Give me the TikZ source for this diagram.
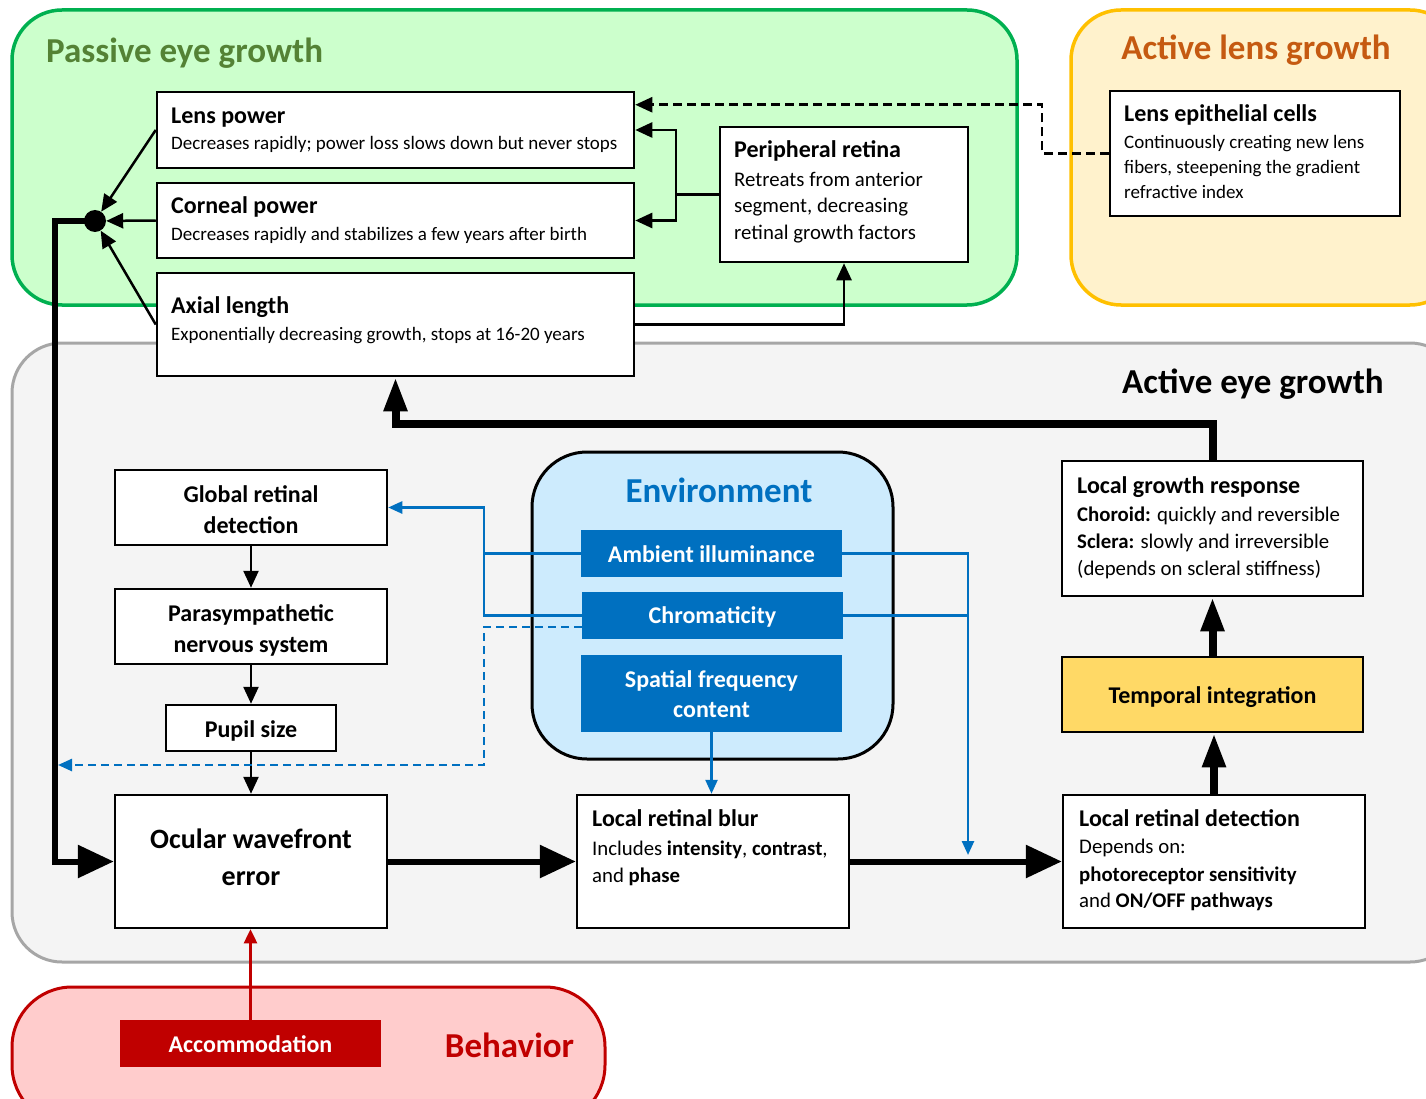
\documentclass[tikz,border=0pt]{standalone}
\usepackage{fontspec}
\setmainfont{Carlito}
\usetikzlibrary{arrows.meta,calc}
\definecolor{grnfill}{HTML}{CCFFCC}
\definecolor{grnline}{HTML}{00B050}
\definecolor{grntext}{HTML}{548235}
\definecolor{orgfill}{HTML}{FFF2CC}
\definecolor{orgline}{HTML}{FFC000}
\definecolor{orgtext}{HTML}{C55A11}
\definecolor{gryfill}{HTML}{F4F4F4}
\definecolor{gryline}{HTML}{A6A6A6}
\definecolor{envfill}{HTML}{CDEBFD}
\definecolor{envblue}{HTML}{0070C0}
\definecolor{redfill}{HTML}{FFCCCC}
\definecolor{redline}{HTML}{C00000}
\definecolor{tempfill}{HTML}{FFD966}
\newcommand{\fs}[1]{\fontsize{#1}{#1}\selectfont}
\tikzset{
 box/.style={draw, line width=2.5pt, fill=white, inner sep=0pt},
 ttl/.style={anchor=base west, inner sep=0pt, font=\bfseries\fs{24}},
 sub/.style={anchor=base west, inner sep=0pt, font=\fs{19}},
 sub2/.style={anchor=base west, inner sep=0pt, font=\fs{20.8}},
 ctr/.style={anchor=base, inner sep=0pt, font=\bfseries\fs{24}},
 wtx/.style={anchor=base, inner sep=0pt, font=\bfseries\fs{24}, text=white},
 rtitle/.style={inner sep=0pt, font=\bfseries\fs{35}},
 blk/.style={fill=envblue, inner sep=0pt},
 thinarr/.style={line width=2.5pt, -{Triangle[length=17pt,width=15pt]}},
 thickarr/.style={line width=6pt, -{Triangle[length=36pt,width=32pt]}},
 fatarr/.style={line width=8pt, -{Triangle[length=34pt,width=22pt]}},
 bluearr/.style={draw=envblue, line width=2.5pt, -{Triangle[length=14pt,width=12pt]}},
 redarr/.style={draw=redline, line width=2.5pt, -{Triangle[length=14pt,width=13pt]}},
}
\begin{document}
\begin{tikzpicture}[x=1pt,y=-1pt]
\useasboundingbox (0,0) rectangle (1426,1099);
\clip (0,0) rectangle (1426,1099);
% regions
\draw[fill=grnfill, draw=grnline, line width=3.5pt, rounded corners=50pt] (12,10) rectangle (1017,305);
\draw[fill=orgfill, draw=orgline, line width=3.5pt, rounded corners=50pt] (1071,10) rectangle (1460,305);
\draw[fill=gryfill, draw=gryline, line width=3pt, rounded corners=50pt] (12,343) rectangle (1460,962);
\draw[fill=redfill, draw=redline, line width=3pt, rounded corners=60pt] (12,987) rectangle (605,1125);
\node[rtitle, anchor=base west, text=grntext] (tpass) at (46,63) {Passive eye growth};
\node[rtitle, anchor=base, text=orgtext] (tlens) at (1256,60) {Active lens growth};
\node[rtitle, anchor=base east] (tact) at (1384,393) {Active eye growth};
\node[rtitle, anchor=base, text=redline] (tbeh) at (509.5,1057) {Behavior};
% environment
\node[draw, line width=3pt, fill=envfill, rounded corners=55pt, minimum width=361pt, minimum height=307pt, inner sep=0pt] (env) at (712.5,605.5) {};
\node[rtitle, anchor=base, text=envblue] (tenv) at (719,502) {Environment};
\node[blk, minimum width=261pt, minimum height=47pt] (amb) at (711.5,553.5) {};
\node[blk, minimum width=261pt, minimum height=47pt] (chrom) at (712.5,615.5) {};
\node[blk, minimum width=261pt, minimum height=77pt] (spat) at (711.5,693.5) {};
\node[wtx] (tamb) at (711.5,562) {Ambient illuminance};
\node[wtx] (tchrom) at (712.5,623) {Chromaticity};
\node[wtx] (tspat1) at (711.5,687) {Spatial frequency};
\node[wtx] (tspat2) at (711.5,717) {content};
% boxes
\node[box, minimum width=477pt, minimum height=76pt] (lens) at (395.5,130) {};
\node[box, minimum width=477pt, minimum height=75pt] (corn) at (395.5,220.5) {};
\node[box, minimum width=477pt, minimum height=103pt] (axial) at (395.5,324.5) {};
\node[box, minimum width=248pt, minimum height=135pt] (peri) at (844,194.5) {};
\node[box, minimum width=290pt, minimum height=125pt] (lensepi) at (1255,153.5) {};
\node[box, minimum width=272pt, minimum height=75pt] (glob) at (251,507.5) {};
\node[box, minimum width=272pt, minimum height=75pt] (para) at (251,626.5) {};
\node[box, minimum width=170pt, minimum height=46pt] (pupil) at (251,728) {};
\node[box, minimum width=272pt, minimum height=133pt] (ocular) at (251,861.5) {};
\node[box, minimum width=272pt, minimum height=133pt] (blur) at (713,861.5) {};
\node[box, minimum width=302pt, minimum height=133pt] (det) at (1214,861.5) {};
\node[box, fill=tempfill, minimum width=301pt, minimum height=75pt] (temp) at (1212.5,694.5) {};
\node[box, minimum width=301pt, minimum height=135pt] (growth) at (1212.5,528.5) {};
\node[fill=redline, inner sep=0pt, minimum width=261pt, minimum height=47pt] (accom) at (250.5,1043.5) {};
\node[wtx] (taccom) at (250.5,1052) {Accommodation};
\node[circle, fill=black, inner sep=0pt, minimum size=22pt] (dot) at (95,221) {};
% texts
\node[ttl] (t1) at (171,124) {Lens power};
\node[sub] (t2) at (171,150) {Decreases rapidly; power loss slows down but never stops};
\node[ttl] (t3) at (171,214) {Corneal power};
\node[sub] (t4) at (171,241) {Decreases rapidly and stabilizes a few years after birth};
\node[ttl] (t5) at (171,313) {Axial length};
\node[sub] (t6) at (171,340) {Exponentially decreasing growth, stops at 16-20 years};
\node[ttl] (t7) at (734,158) {Peripheral retina};
\node[sub2] (t8) at (734,187) {Retreats from anterior};
\node[sub2] (t9) at (734,213) {segment, decreasing};
\node[sub2] (t10) at (734,240) {retinal growth factors};
\node[ttl] (t11) at (1124,122) {Lens epithelial cells};
\node[sub] (t12) at (1124,149) {Continuously creating new lens};
\node[sub] (t13) at (1124,174) {fibers, steepening the gradient};
\node[sub] (t14) at (1124,199) {refractive index};
\node[ctr] (t15) at (251,502) {Global retinal};
\node[ctr] (t16) at (251,533) {detection};
\node[ctr] (t17) at (251,621) {Parasympathetic};
\node[ctr] (t18) at (251,652) {nervous system};
\node[ctr] (t19) at (251,737) {Pupil size};
\node[ctr, font=\bfseries\fs{28}] (t20) at (251,848) {Ocular wavefront};
\node[ctr, font=\bfseries\fs{28}] (t21) at (251,885) {error};
\node[ttl] (t22) at (592,826) {Local retinal blur};
\node[sub2] (t23) at (592,855) {Includes \textbf{intensity}, \textbf{contrast},};
\node[sub2] (t24) at (592,882) {and \textbf{phase}};
\node[ttl] (t25) at (1079,826) {Local retinal detection};
\node[sub2] (t26) at (1079,853) {Depends on:};
\node[sub2] (t27) at (1079,881) {\textbf{photoreceptor sensitivity}};
\node[sub2] (t28) at (1079,907) {and \textbf{ON/OFF pathways}};
\node[ctr] (t29) at (1212.5,703) {Temporal integration};
\node[ttl] (t30) at (1077,493) {Local growth response};
\node[sub2] (t31) at (1077,521) {\textbf{Choroid:} quickly and reversible};
\node[sub2] (t32) at (1077,548) {\textbf{Sclera:} slowly and irreversible};
\node[sub2] (t33) at (1077,575) {(depends on scleral stiffness)};
% coordinates
\coordinate (bj) at (484,553.5);
\coordinate (dl) at (58,765);
\coordinate (bd) at (968,855);
% black connectors in passive region
\draw[thinarr] (lens.west) -- (dot);
\draw[thinarr] (corn.west) -- (dot);
\draw[thinarr] (axial.west) -- (dot);
\draw[thinarr] (peri.west) -- ++(-43,0) |- (lens.east);
\draw[thinarr] (peri.west) -- ++(-43,0) |- (corn.east);
\draw[thinarr] (axial.east) -| (peri.south);
\draw[thinarr, dash pattern=on 9pt off 5pt] (lensepi.west) -- ++(-67,0) |- ($(lens.north east)+(0,14)$);
% feedback loop
\draw[thickarr] (dot.center) -- ++(-40,0) |- (ocular.west);
\draw[fatarr] (growth.north) -- ++(0,-36) -| (axial.south);
% chain
\draw[thinarr] (glob.south) -- (para.north);
\draw[thinarr] (para.south) -- (pupil.north);
\draw[thinarr] (pupil.south) -- (ocular.north);
\draw[thickarr] (ocular.east) -- (blur.west);
\draw[thickarr] (blur.east) -- (det.west);
\draw[fatarr] (det.north) -- (det.north |- temp.south);
\draw[fatarr] (temp.north) -- (growth.south);
\draw[redarr] (accom.north) -- (accom.north |- ocular.south);
% blue connectors
\draw[bluearr] (amb.west) -- (bj) |- (glob.east);
\draw[envblue, line width=2.5pt] (chrom.west) -| (bj);
\draw[bluearr, dash pattern=on 8pt off 5pt] ($(chrom.south west)+(0,-12)$) -- ++(-98,0) |- (dl);
\draw[bluearr] (amb.east) -| (bd);
\draw[envblue, line width=2.5pt] (chrom.east) -- (chrom.east -| bd);
\draw[bluearr] (spat.south) -- (spat.south |- blur.north);
\end{tikzpicture}
\end{document}
